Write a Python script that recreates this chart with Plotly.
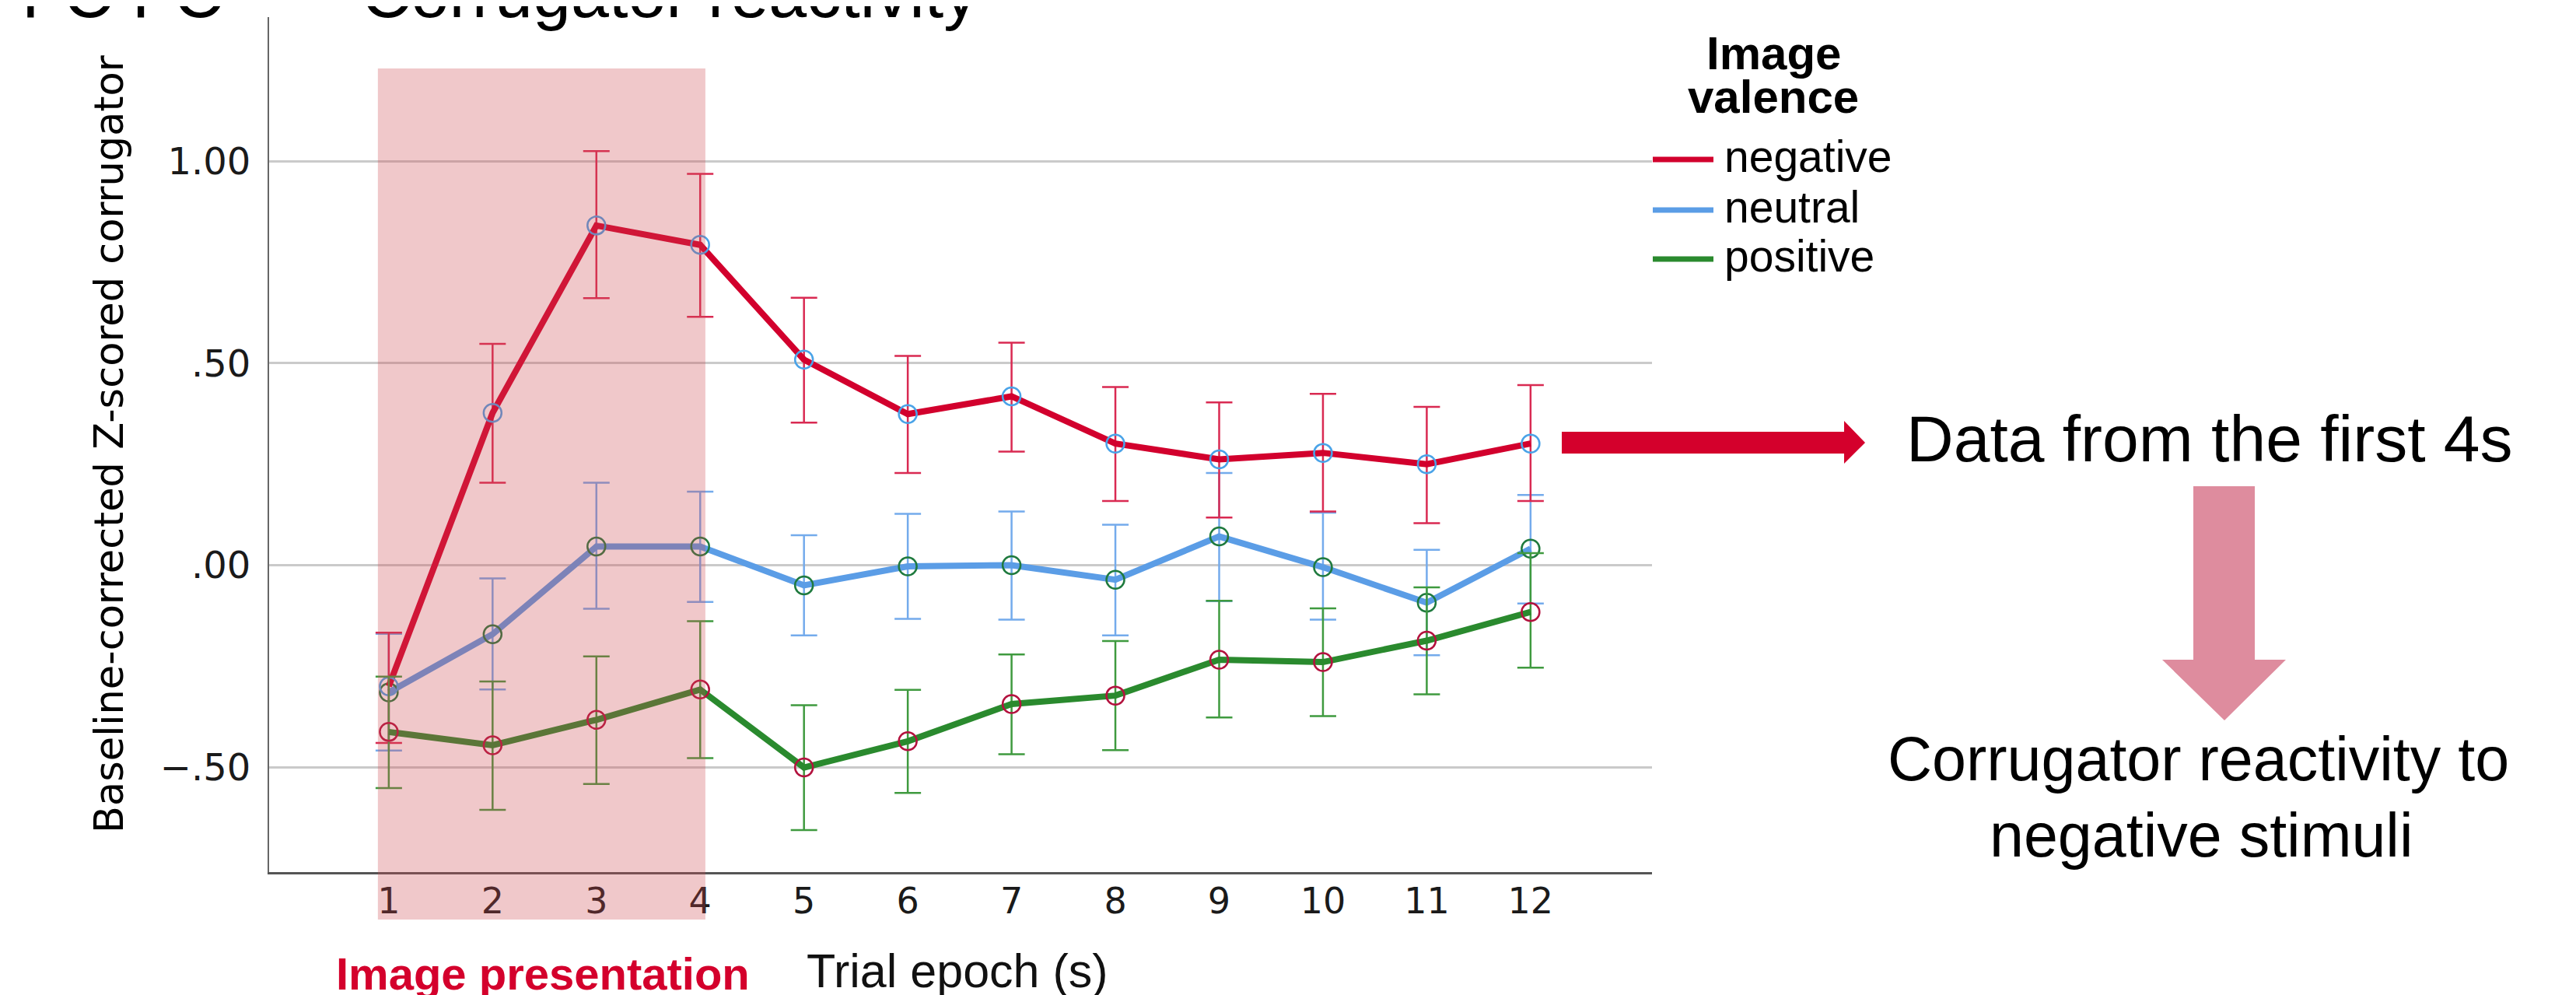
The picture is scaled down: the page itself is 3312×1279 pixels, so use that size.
import plotly.graph_objects as go

# ---------------- data ----------------
epochs = [1, 2, 3, 4, 5, 6, 7, 8, 9, 10, 11, 12]

negative = [-0.300, 0.377, 0.841, 0.793, 0.509, 0.374, 0.418, 0.301, 0.262, 0.278, 0.250, 0.301]
neg_upper = [-0.167, 0.548, 1.025, 0.969, 0.662, 0.518, 0.551, 0.441, 0.403, 0.424, 0.392, 0.446]
neg_lower = [-0.440, 0.204, 0.661, 0.615, 0.353, 0.228, 0.281, 0.159, 0.118, 0.133, 0.104, 0.159]

neutral = [-0.315, -0.171, 0.046, 0.046, -0.050, -0.003, 0.000, -0.036, 0.071, -0.005, -0.093, 0.041]
neu_upper = [-0.170, -0.033, 0.204, 0.182, 0.074, 0.127, 0.133, 0.100, 0.228, 0.130, 0.038, 0.174]
neu_lower = [-0.459, -0.308, -0.108, -0.091, -0.174, -0.133, -0.135, -0.174, -0.089, -0.135, -0.223, -0.095]

positive = [-0.413, -0.446, -0.383, -0.308, -0.501, -0.436, -0.344, -0.323, -0.234, -0.240, -0.187, -0.116]
pos_upper = [-0.276, -0.288, -0.226, -0.139, -0.347, -0.309, -0.221, -0.188, -0.088, -0.107, -0.055, 0.030]
pos_lower = [-0.552, -0.606, -0.542, -0.478, -0.656, -0.564, -0.468, -0.458, -0.377, -0.374, -0.320, -0.254]

y_tickvals = [-0.5, 0.0, 0.5, 1.0]
y_ticktext = ["\u2212.50", ".00", ".50", "1.00"]
x_tickvals = epochs
x_ticktext = [str(e) for e in epochs]

series_names = ["negative", "neutral", "positive"]
presentation_window = [0.895, 4.05]

# ---------------- geometry helpers ----------------
W, H = 3312, 1279
L, R, T, B = 338, 2116, 14, 1113


def px(x):
    return (x - L) / (R - L)


def py(y):
    return (B - y) / (B - T)


SANS = "Liberation Sans, Arial, Helvetica, sans-serif"
DEJAVU = "DejaVu Sans, Verdana, sans-serif"

RED = "#D2002D"
BLUE = "#5B9DE6"
GREEN = "#2A8A2E"

fig = go.Figure()


def add_series(name, vals, up, lo, line_color, err_color, marker_color):
    fig.add_trace(go.Scatter(
        x=epochs, y=vals, name=name, mode="lines+markers",
        line=dict(color=line_color, width=8),
        marker=dict(symbol="circle-open", size=23, color=marker_color,
                    line=dict(width=2.5, color=marker_color)),
        error_y=dict(type="data", symmetric=False,
                     array=[u - v for u, v in zip(up, vals)],
                     arrayminus=[v - l for v, l in zip(vals, lo)],
                     color=err_color, thickness=2.5, width=17),
        showlegend=False,
    ))


add_series("neutral", neutral, neu_upper, neu_lower, BLUE, "#74ABEC", "#1F7A3E")
add_series("negative", negative, neg_upper, neg_lower, RED, "#D92A52", "#4AA3E8")
add_series("positive", positive, pos_upper, pos_lower, GREEN, "#3F9A3F", "#B3123E")

shapes = []
# image presentation window (translucent pink overlay)
shapes.append(dict(type="rect", xref="x", yref="paper",
                   x0=presentation_window[0], x1=presentation_window[1],
                   y0=py(1174), y1=py(80),
                   fillcolor="rgba(205,72,78,0.30)", line=dict(width=0), layer="above"))

# red horizontal arrow
red_arrow = [(2000, 547), (2363, 547), (2363, 533), (2390, 561), (2363, 588), (2363, 575), (2000, 575)]
path = "M " + " L ".join(f"{px(a):.5f},{py(b):.5f}" for a, b in red_arrow) + " Z"
shapes.append(dict(type="path", xref="paper", yref="paper", path=path,
                   fillcolor="#D4002C", line=dict(width=0), layer="above"))

# pink down arrow
pink_arrow = [(2812, 617), (2891, 617), (2891, 840), (2931, 840), (2852, 918), (2772, 840), (2812, 840)]
path = "M " + " L ".join(f"{px(a):.5f},{py(b):.5f}" for a, b in pink_arrow) + " Z"
shapes.append(dict(type="path", xref="paper", yref="paper", path=path,
                   fillcolor="#DE8C9E", line=dict(width=0), layer="above"))

# manual legend line samples
legend_colors = [RED, BLUE, GREEN]
legend_y = [197, 262, 325]
for c, yy in zip(legend_colors, legend_y):
    shapes.append(dict(type="line", xref="paper", yref="paper",
                       x0=px(2117), x1=px(2195), y0=py(yy), y1=py(yy),
                       line=dict(color=c, width=7), layer="above"))

annotations = []


def ann(text, x, y, size, family=SANS, color="#000000", xanchor="left", angle=0, bold=False):
    t = f"<b>{text}</b>" if bold else text
    annotations.append(dict(text=t, x=px(x), y=py(y), xref="paper", yref="paper",
                            xanchor=xanchor, yanchor="middle", showarrow=False,
                            textangle=angle, font=dict(size=size, family=family, color=color)))


# cut-off slide title at the top
ann("FC FC  \u2014", 18, 14 - 0.3465 * 88, 88)
ann("Corrugator reactivity", 455, 14 - 0.3465 * 88, 88)

# axis titles
ann("Baseline-corrected Z-scored corrugator", 132, 563, 51, family=DEJAVU, xanchor="center", angle=-90)
ann("Trial epoch (s)", 1027, 1261 - 0.3465 * 61, 61, color="#111111")
ann("Image presentation", 422, 1264 - 0.3465 * 58, 58, color="#D4002C", bold=True)

# legend
ann("Image", 2272, 61, 60, xanchor="center", bold=True)
ann("valence", 2272, 116, 60, xanchor="center", bold=True)
for name, yy in zip(series_names, legend_y):
    ann(name, 2207, yy - 4, 57)

# side texts
ann("Data from the first 4s", 2833, 556, 84, xanchor="center")
ann("Corrugator reactivity to", 2818, 967, 79, xanchor="center")
ann("negative stimuli", 2822, 1065, 79, xanchor="center")

fig.update_layout(
    width=W, height=H,
    margin=dict(l=L, r=W - R, t=T, b=H - B, pad=0),
    paper_bgcolor="white", plot_bgcolor="white",
    shapes=shapes, annotations=annotations,
    showlegend=False,
    xaxis=dict(range=[-0.153, 13.17], tickvals=x_tickvals, ticktext=x_ticktext,
               showgrid=False, zeroline=False, showline=True, linecolor="#555555", linewidth=3,
               ticks="", ticklabelstandoff=-5,
               tickfont=dict(family=DEJAVU, size=46, color="#1a1a1a")),
    yaxis=dict(range=[-0.760, 1.357], tickvals=y_tickvals, ticktext=y_ticktext,
               showgrid=True, gridcolor="#cacaca", gridwidth=3, zeroline=False,
               showline=True, linecolor="#666666", linewidth=2,
               ticks="", ticklabelstandoff=12,
               tickfont=dict(family=DEJAVU, size=48, color="#1a1a1a")),
)

fig.write_html("out.html")
